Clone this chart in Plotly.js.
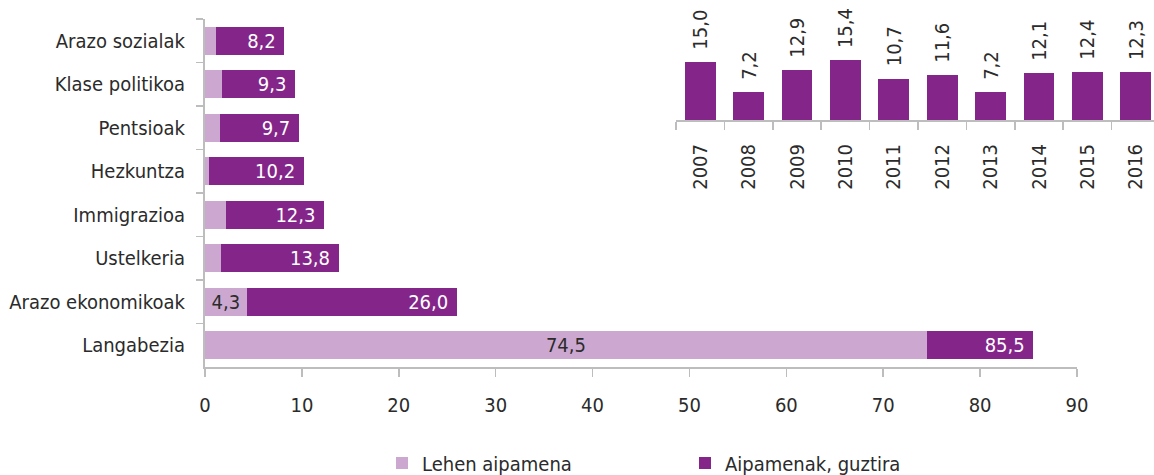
<!DOCTYPE html>
<html>
<head>
<meta charset="utf-8">
<script src="https://cdn.plot.ly/plotly-3.0.1.min.js"></script>
<style>html,body{margin:0;padding:0;background:#fff;}#chart{width:1154px;height:475px;}</style>
</head>
<body>
<div id="chart"></div>
<script>
// ---- data ----
const categories = ['Arazo sozialak','Klase politikoa','Pentsioak','Hezkuntza','Immigrazioa','Ustelkeria','Arazo ekonomikoak','Langabezia'];
const firstMention = [1.1, 1.8, 1.5, 0.4, 2.2, 1.7, 4.3, 74.5];
const totalMentions = [8.2, 9.3, 9.7, 10.2, 12.3, 13.8, 26.0, 85.5];
const showFirstLabel = [false, false, false, false, false, false, true, true];
const seriesNames = ['Lehen aipamena', 'Aipamenak, guztira'];
const xTicks = [0,10,20,30,40,50,60,70,80,90];
const years = ['2007','2008','2009','2010','2011','2012','2013','2014','2015','2016'];
const yearValues = [15.0, 7.2, 12.9, 15.4, 10.7, 11.6, 7.2, 12.1, 12.4, 12.3];

// ---- style ----
const FONT = "'DejaVu Sans Condensed', 'Liberation Sans Narrow', sans-serif";
const FS = 20;
const LIGHT = 'rgb(204,168,208)';
const DARK = 'rgb(132,38,137)';
const TXT = '#2b2b2b';
const AX = '#bdbdbd';
const fmt = v => v.toFixed(1).replace('.', ',');

const W = 1154, H = 475, L = 205, R = 0, T = 19, B = 108;
const pw = W - L - R, ph = H - T - B;
const mainRight = (1077 - L) / pw;

const traceFirst = {
  type: 'bar', orientation: 'h', name: seriesNames[0],
  y: categories, x: firstMention,
  marker: {color: LIGHT},
  text: firstMention.map((v, i) => showFirstLabel[i] ? fmt(v) : ''),
  textposition: 'inside', insidetextanchor: 'middle', constraintext: 'none',
  textfont: {family: FONT, size: FS, color: TXT},
  width: 0.64, hoverinfo: 'skip', xaxis: 'x', yaxis: 'y'
};
const traceTotal = {
  type: 'bar', orientation: 'h', name: seriesNames[1],
  y: categories, x: totalMentions.map((t, i) => t - firstMention[i]),
  marker: {color: DARK},
  text: totalMentions.map(v => fmt(v) + '\u00a0'),
  textposition: 'inside', insidetextanchor: 'end', constraintext: 'none',
  textfont: {family: FONT, size: FS, color: '#ffffff'},
  width: 0.64, hoverinfo: 'skip', xaxis: 'x', yaxis: 'y'
};
const traceYears = {
  type: 'bar', x: years, y: yearValues,
  marker: {color: DARK}, width: 0.64,
  text: yearValues.map(v => '\u00a0\u2009' + fmt(v)),
  textposition: 'outside', textangle: -90, cliponaxis: false, constraintext: 'none',
  textfont: {family: FONT, size: FS, color: TXT},
  showlegend: false, hoverinfo: 'skip', xaxis: 'x2', yaxis: 'y2'
};

const y2base = (H - B - 120) / ph;
const y2range = (ph * (1 - y2base)) / 3.87;
const x2left = (676 - L) / pw;
const x2right = (W - R - 676) / 48.4 - 0.5;

const layout = {
  width: W, height: H,
  margin: {l: L, r: R, t: T, b: B, pad: 0, autoexpand: false},
  paper_bgcolor: '#fff', plot_bgcolor: 'rgba(0,0,0,0)',
  font: {family: FONT, size: FS, color: TXT},
  barmode: 'stack', bargap: 0.36,
  showlegend: true,
  legend: {
    orientation: 'h',
    xref: 'container', x: 382 / W, xanchor: 'left',
    yref: 'container', y: 1 - 463 / H, yanchor: 'middle',
    entrywidth: 258, entrywidthmode: 'pixels',
    font: {family: FONT, size: FS, color: TXT},
    traceorder: 'normal', bgcolor: 'rgba(0,0,0,0)'
  },
  xaxis: {
    domain: [0, mainRight], range: [0, 90], tickvals: xTicks,
    showgrid: false, zeroline: false,
    showline: true, linecolor: AX, linewidth: 2,
    ticks: 'outside', ticklen: 8, tickcolor: AX, tickwidth: 1.5,
    tickfont: {family: FONT, size: FS, color: TXT},
    ticklabelstandoff: 11, fixedrange: true, automargin: false
  },
  yaxis: {
    type: 'category', autorange: 'reversed',
    showgrid: false, zeroline: false,
    showline: true, linecolor: AX, linewidth: 2,
    ticks: 'outside', tickson: 'boundaries', ticklen: 7, tickcolor: AX, tickwidth: 1.5,
    tickfont: {family: FONT, size: FS, color: TXT},
    ticklabelstandoff: 14, fixedrange: true, automargin: false
  },
  xaxis2: {
    domain: [x2left, 1], range: [-0.5, x2right], anchor: 'y2', type: 'category',
    showgrid: false, zeroline: false,
    showline: true, linecolor: AX, linewidth: 2,
    ticks: 'outside', tickson: 'boundaries', ticklen: 8, tickcolor: AX, tickwidth: 1.5,
    tickangle: -90, tickfont: {family: FONT, size: FS, color: TXT},
    ticklabelstandoff: 14, fixedrange: true, automargin: false
  },
  yaxis2: {
    domain: [y2base, 1], range: [0, y2range], anchor: 'x2',
    visible: false, fixedrange: true
  }
};

Plotly.newPlot('chart', [traceFirst, traceTotal, traceYears], layout, {displayModeBar: false, staticPlot: true});
</script>
</body>
</html>
